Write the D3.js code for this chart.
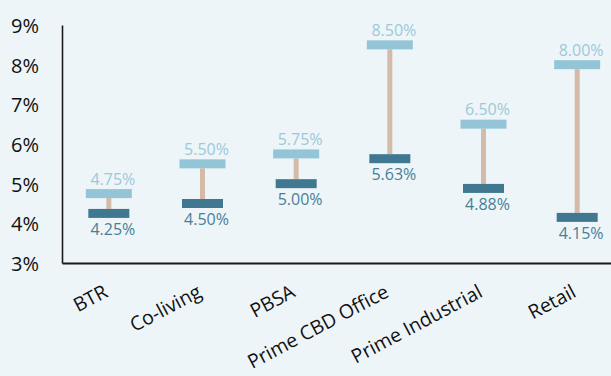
<!DOCTYPE html>
<html>
<head>
<meta charset="utf-8">
<script src="https://cdn.jsdelivr.net/npm/d3@7/dist/d3.min.js"></script>
<style>
  html, body { margin: 0; padding: 0; background: #EEF5F8; }
  svg { display: block; font-family: "Open Sans", sans-serif; }
</style>
</head>
<body>
<svg id="chart" width="611" height="376"></svg>
<script>
// Yield ranges by sector (low / high, in %)
const categories = ["BTR", "Co-living", "PBSA", "Prime CBD Office", "Prime Industrial", "Retail"];
const lowValues  = [4.25, 4.50, 5.00, 5.63, 4.88, 4.15];
const highValues = [4.75, 5.50, 5.75, 8.50, 6.50, 8.00];
const yTicks = [3, 4, 5, 6, 7, 8, 9];

const svg = d3.select("#chart");

const x = d3.scaleBand().domain(categories).range([62, 624]).paddingInner(0).paddingOuter(0);
const y = d3.scaleLinear().domain([3, 9]).range([263, 25]);

const colHigh = "#94C5D6", colLow = "#3F7890", colLink = "#D4BAA8";
const colHighText = "#9BC9DA", colLowText = "#497F96";
const barH = 9;
const cx = d => x(d) + x.bandwidth() / 2;

const data = categories.map((c, i) => ({ cat: c, low: lowValues[i], high: highValues[i] }));

// Connectors between low and high
svg.append("g").selectAll("rect").data(data).join("rect")
  .attr("x", d => cx(d.cat) - 2.5)
  .attr("width", 5)
  .attr("y", d => y(d.high) + barH / 2)
  .attr("height", d => y(d.low) - y(d.high) - barH)
  .attr("fill", colLink);

// High markers
svg.append("g").selectAll("rect").data(data).join("rect")
  .attr("x", d => cx(d.cat) - 23)
  .attr("width", 46)
  .attr("y", d => y(d.high) - barH / 2)
  .attr("height", barH)
  .attr("fill", colHigh);

// Low markers
svg.append("g").selectAll("rect").data(data).join("rect")
  .attr("x", d => cx(d.cat) - 20.5)
  .attr("width", 41)
  .attr("y", d => y(d.low) - barH / 2)
  .attr("height", barH)
  .attr("fill", colLow);

const fmt = v => v.toFixed(2) + "%";

// Value labels
svg.append("g").selectAll("text").data(data).join("text")
  .attr("x", d => cx(d.cat) + 4)
  .attr("y", d => y(d.high) - barH / 2 - 4.5)
  .attr("text-anchor", "middle")
  .attr("font-size", 16)
  .attr("fill", colHighText)
  .text(d => fmt(d.high));

svg.append("g").selectAll("text").data(data).join("text")
  .attr("x", d => cx(d.cat) + 4)
  .attr("y", d => y(d.low) + barH / 2 + 17)
  .attr("text-anchor", "middle")
  .attr("font-size", 16)
  .attr("fill", colLowText)
  .text(d => fmt(d.low));

// Y axis
const yAxis = svg.append("g").attr("transform", "translate(62,0)")
  .call(d3.axisLeft(y).tickValues(yTicks).tickSize(0).tickPadding(23).tickFormat(d => d + "%"));
yAxis.select(".domain").attr("stroke", "#1a1a1a").attr("stroke-width", 1.6);
yAxis.selectAll("text")
  .attr("font-family", "Open Sans, sans-serif")
  .attr("font-size", 20)
  .attr("fill", "#111")
  .attr("dy", "0.38em");

// X axis
const xAxis = svg.append("g").attr("transform", "translate(0,263)")
  .call(d3.axisBottom(x).tickSize(0).tickFormat(""));
xAxis.select(".domain").attr("stroke", "#1a1a1a").attr("stroke-width", 1.8);

svg.append("g").selectAll("text").data(categories).join("text")
  .attr("transform", d => `translate(${cx(d) + 0.3},296) rotate(-28)`)
  .attr("text-anchor", "end")
  .attr("font-size", 19.5)
  .attr("fill", "#111")
  .text(d => d);
</script>
</body>
</html>
